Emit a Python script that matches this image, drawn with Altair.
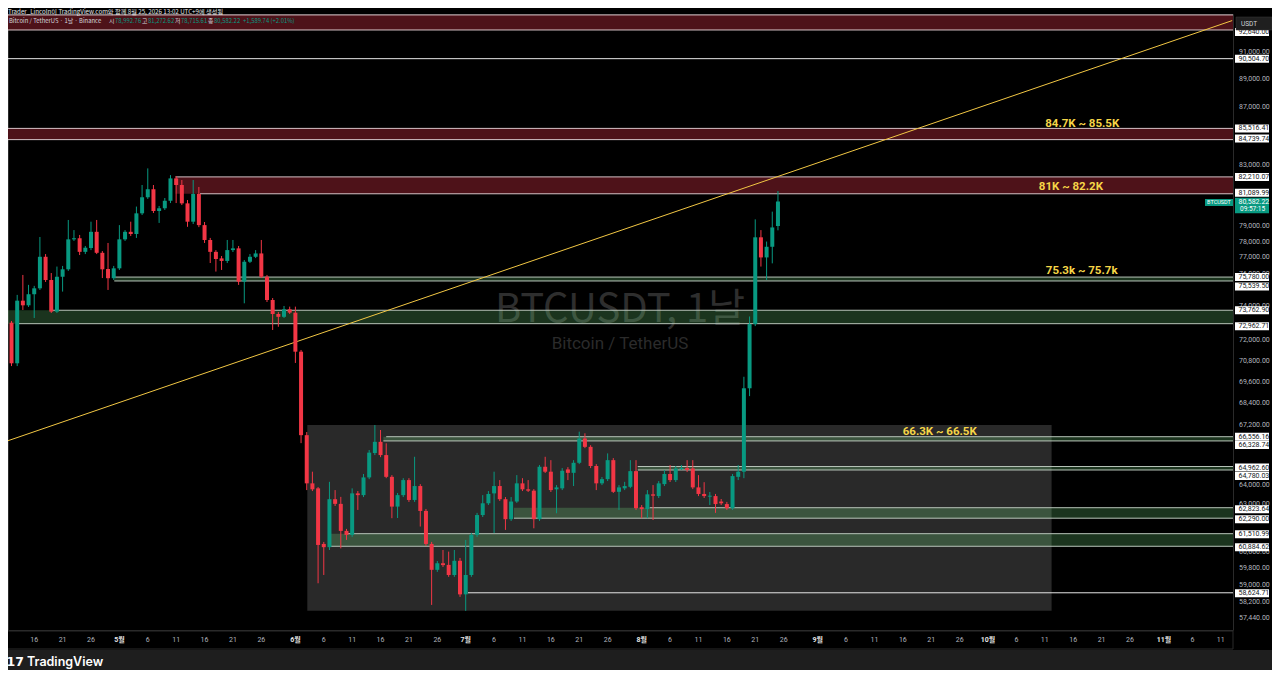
import altair as alt
import pandas as pd

# ---------------- text ----------------
header_text = "Trader_Lincoln이 TradingView.com와 함께 8월 25, 2026 13:02 UTC+9에 생성됨"
symbol_text = "Bitcoin / TetherUS · 1날 · Binance"
watermark_big = "BTCUSDT, 1날"
watermark_small = "Bitcoin / TetherUS"

# ---------------- daily candles, 2026-04-12 .. 2026-08-25 (day index 0..135) ----------------
opens = [73020, 70650, 74340, 74060, 74730, 75090, 77040, 75600, 73680, 75800,
         76260, 78140, 78210, 77350, 77590, 78620, 77290, 76280, 75710, 76320,
         78140, 78620, 78480, 79810, 80860, 81390, 79960, 80140, 80630, 82110,
         81670, 80460, 79270, 81080, 79050, 78100, 77350, 76940, 76780, 77460,
         77570, 75500, 76730, 77040, 77250, 75800, 74380, 73540, 73370, 73820,
         73620, 71320, 66640, 64080, 63820, 61000, 60840, 63260, 63020, 61650,
         61450, 63560, 63470, 64390, 65680, 66280, 65570, 64420, 62880, 63470,
         64250, 63220, 63940, 62660, 61000, 59730, 60050, 59970, 59480, 60170,
         58550, 59480, 61450, 62450, 63050, 63560, 63940, 63260, 62240, 63140,
         64080, 63770, 63700, 62240, 64950, 64690, 63770, 63820, 64810, 64630,
         65160, 66460, 66010, 64990, 64080, 64300, 65300, 63640, 63820, 63900,
         64720, 62850, 62750, 63510, 63420, 64040, 64570, 64250, 64830, 64880,
         64860, 63870, 63530, 63390, 63420, 63140, 63010, 62800, 64420, 64690,
         69230, 72940, 78270, 77000, 77670, 78992.76]
highs = [73120, 74690, 75910, 75300, 75240, 78290, 77210, 76030, 76430, 76470,
         79380, 78730, 78420, 77720, 79270, 79380, 77400, 77910, 76470, 79050,
         78730, 79270, 80250, 81670, 82780, 81670, 80290, 80810, 82330, 82270,
         82000, 80680, 82000, 81540, 79250, 78230, 77460, 77090, 78100, 78100,
         77720, 76840, 77210, 77460, 78100, 75910, 74500, 73660, 74020, 73980,
         73980, 71420, 66810, 64690, 63890, 61100, 64160, 63730, 63380, 61750,
         63820, 63680, 64570, 65840, 67190, 66920, 66200, 64510, 63580, 64350,
         64350, 65480, 64040, 62760, 61100, 60160, 60700, 60620, 60700, 60310,
         61200, 61550, 62560, 63470, 63680, 64690, 64250, 63370, 63370, 64510,
         64350, 64250, 63780, 65040, 65480, 65300, 63990, 64880, 64930, 65300,
         66830, 66740, 66100, 65090, 64410, 65660, 65410, 63990, 64160, 65300,
         65300, 62960, 63730, 63990, 64200, 64780, 65040, 64990, 65040, 65300,
         65300, 64510, 64140, 63630, 63530, 63270, 63120, 64570, 65040, 69880,
         73390, 79420, 78730, 78000, 79920, 81272.62]
lows = [70490, 70490, 73780, 73960, 73300, 74990, 75480, 73600, 73600, 74890,
        76160, 78040, 77150, 77210, 77460, 77210, 75720, 74990, 75600, 76220,
        78040, 78350, 78230, 79700, 80750, 79830, 79190, 80030, 80480, 80480,
        80350, 78940, 79120, 78920, 77910, 76650, 76120, 76220, 76650, 77340,
        75300, 74180, 76650, 76960, 75720, 74260, 72590, 72780, 73300, 73540,
        70670, 66210, 63730, 63680, 59080, 59480, 60700, 62910, 60780, 61200,
        61350, 62710, 63370, 64300, 65570, 65460, 64350, 62290, 62300, 63370,
        63120, 63120, 61870, 60900, 58050, 59630, 59870, 59390, 59390, 58430,
        57770, 59390, 61350, 62350, 62960, 61540, 63170, 61700, 62150, 63070,
        63680, 63630, 61780, 62150, 64620, 63630, 62540, 63730, 64250, 63940,
        65090, 65940, 64880, 63730, 63990, 64200, 63580, 62710, 63730, 63830,
        62710, 62290, 62290, 62200, 63320, 63940, 64150, 64150, 64780, 64670,
        63780, 63420, 63320, 62960, 62560, 62960, 62710, 62710, 64250, 64350,
        68790, 72820, 76430, 75600, 76630, 78715.61]
closes = [70650, 74340, 74060, 74730, 75090, 77040, 75600, 73680, 75800, 76260,
          78140, 78210, 77350, 77610, 78620, 77290, 76260, 75710, 76320, 78140,
          78620, 78480, 79810, 80860, 81390, 79960, 80140, 80630, 82110, 81670,
          80460, 79270, 81080, 79050, 78100, 77350, 76900, 76780, 77460, 77570,
          75500, 76730, 77040, 77250, 75800, 74380, 73540, 73370, 73820, 73620,
          71320, 66640, 64080, 63770, 60950, 60840, 63260, 63020, 61650, 61450,
          63560, 63470, 64390, 65700, 66280, 65570, 64420, 62880, 63470, 64250,
          63220, 63940, 62660, 61000, 59730, 60050, 59960, 59480, 60170, 58550,
          59480, 61450, 62450, 63050, 63530, 63940, 63260, 62240, 63140, 64080,
          63770, 63700, 62240, 64950, 64690, 63730, 63870, 64740, 64630, 65160,
          66460, 66010, 64990, 64080, 64300, 65300, 63640, 63870, 63940, 64720,
          62800, 62750, 63510, 63440, 64080, 64570, 64250, 64860, 64880, 64780,
          63870, 63530, 63420, 63440, 63010, 63050, 62800, 64460, 64690, 69230,
          72940, 78270, 77000, 77670, 78900, 80582.22]

# ---------------- axis ticks ----------------
tick_days = [4, 9, 14, 19, 24, 29, 34, 39, 44, 50, 55, 60, 65, 70, 75, 80, 85, 90, 95, 100,
             105, 111, 116, 121, 126, 131, 136, 142, 147, 152, 157, 162, 167, 172, 177, 182,
             187, 192, 197, 203, 208, 213]
tick_labels = ["16", "21", "26", "5월", "6", "11", "16", "21", "26", "6월", "6", "11", "16",
               "21", "26", "7월", "6", "11", "16", "21", "26", "8월", "6", "11", "16", "21",
               "26", "9월", "6", "11", "16", "21", "26", "10월", "6", "11", "16", "21", "26",
               "11월", "6", "11"]
month_days = [19, 50, 80, 111, 142, 172, 203]
price_ticks = [91000, 89000, 87000, 83000, 79000, 78000, 77000, 76000, 74000, 72000,
               70800, 69600, 68400, 67200, 64000, 63000, 60600, 59800, 59000, 58200, 57440]

# ---------------- drawn levels ----------------
zone_lo = [92640, 84739.74, 81089.99, 75539.50, 72962.71, 66328.74, 64780.03, 62290.00, 60884.62]
zone_hi = [93780, 85516.41, 82210.07, 75780.00, 73762.90, 66556.16, 64962.60, 62823.64, 61510.99]
zone_start = [-5, -5, 28.9, 18.1, -5, 65.5, 110.3, 88.5, 56.2]
zone_kind = ["red", "red", "red", "green", "green", "green", "green", "green", "green"]

edge_price = [93780, 92640, 90504.70, 85516.41, 84739.74, 82210.07, 81089.99, 75780.00,
              75539.50, 73762.90, 72962.71, 66556.16, 66328.74, 64962.60, 64780.03,
              62823.64, 62290.00, 61510.99, 60884.62, 58624.71]
edge_start = [-5, -5, -5, -5, -5, 28.9, 33.2, 18.1, 18.1, 7.3, 1.1, 66.0, 65.5, 110.3, 110.3,
              112.4, 88.5, 59.1, 56.2, 80.4]
edge_kind = ["red", "red", "white", "red", "red", "red", "red", "green", "green", "green",
             "green", "green", "green", "green", "green", "green", "green", "green", "green",
             "white"]

box_vals = [92640.00, 90504.70, 85516.41, 84739.74, 82210.07, 81089.99, 75780.00, 75539.50,
            73762.90, 72962.71, 66556.16, 66328.74, 64962.60, 64780.03, 62823.64, 62290.00,
            61510.99, 60884.62, 58624.71]
box_shift = [2, 0, 0, -1, 0, -1, 0, 5.5, 0, 2.5, 0, 4, 1, 6, 1.5, 1, 0.5, 1, 0.5]

trend_i = [-1, 215]
trend_p = [66300, 93350]

range_i = [52.1, 183.2]
range_p = [57770, 67190]

zone_labels = ["84.7K ~ 85.5K", "81K ~ 82.2K", "75.3k ~ 75.7k", "66.3K ~ 66.5K"]
zone_label_i = [188.6, 186.6, 188.5, 163.5]
zone_label_p = [85820, 81540, 76160, 66810]

# ---------------- styling ----------------
UP = "#089981"
DN = "#f23645"
W, H = 1225, 616
FONT = "Roboto, 'Noto Sans CJK KR', sans-serif"
KFONT = "'Noto Sans CJK KR', Roboto, sans-serif"
EDGE_COL = {"red": "#d6c2c6", "green": "#b8c4b9", "white": "#e6e6e6"}

n = len(opens)
candles = pd.DataFrame({"i": list(range(n)), "o": opens, "h": highs, "l": lows, "c": closes})
candles["d"] = ["up" if c >= o else "down" for o, c in zip(opens, closes)]

zones = pd.DataFrame({"lo": zone_lo, "hi": zone_hi, "s": zone_start, "k": zone_kind})
zones["e"] = 240
edges = pd.DataFrame({"p": edge_price, "s": edge_start, "k": edge_kind})
edges["e"] = 240
trend = pd.DataFrame({"i": trend_i, "p": trend_p})
rng = pd.DataFrame({"i0": [range_i[0]], "i1": [range_i[1]], "lo": [range_p[0]], "hi": [range_p[1]]})
zl = pd.DataFrame({"t": zone_labels, "i": zone_label_i, "p": zone_label_p})
xt = pd.DataFrame({"i": tick_days, "t": tick_labels})
xt["m"] = [d in month_days for d in tick_days]
yt = pd.DataFrame({"p": price_ticks})

xs = alt.Scale(domain=[0.262, 214.27], nice=False, zero=False)
ys = alt.Scale(type="log", domain=[56878, 93851], nice=False, zero=False)

one = pd.DataFrame({"a": [0]})


def X(f):
    return alt.X(f, scale=xs, axis=None)


def Y(f):
    return alt.Y(f, scale=ys, axis=None)


def px_text(txt, x, y, **kw):
    return alt.Chart(one).mark_text(text=txt, **kw).encode(x=alt.value(x), y=alt.value(y))


def box_shape(w_over_h):
    hh = 1.0 / w_over_h
    return "M-1,-%.4fL1,-%.4fL1,%.4fL-1,%.4fZ" % (hh, hh, hh, hh)


layers = []

# bottom branding strip and date strip
layers.append(alt.Chart(one).mark_rect(color="#1e1e1e").encode(
    x=alt.value(-10), x2=alt.value(1300), y=alt.value(636), y2=alt.value(700)))
layers.append(alt.Chart(one).mark_rect(fill="#000000", stroke="#2a2a2a", strokeWidth=1).encode(
    x=alt.value(-3), x2=alt.value(1225), y=alt.value(617), y2=alt.value(635)))

# watermark
layers.append(px_text(watermark_big, 612, 296, font=KFONT, fontSize=40, color="#2e2e2e",
                      align="center", baseline="middle"))
layers.append(px_text(watermark_small, 612, 330, font=FONT, fontSize=17, color="#2b2b2b",
                      align="center", baseline="middle"))

# consolidation range box
layers.append(alt.Chart(rng).mark_rect(color="#ffffff", opacity=0.16).encode(
    x=X("i0:Q"), x2="i1:Q", y=Y("lo:Q"), y2="hi:Q"))

# zones
layers.append(alt.Chart(zones).transform_filter("datum.k == 'red'").mark_rect(
    color="#4e1219", clip=True).encode(x=X("s:Q"), x2="e:Q", y=Y("lo:Q"), y2="hi:Q"))
layers.append(alt.Chart(zones).transform_filter("datum.k == 'green'").mark_rect(
    color="#7cec88", opacity=0.22, clip=True).encode(x=X("s:Q"), x2="e:Q", y=Y("lo:Q"), y2="hi:Q"))
for kind, col in EDGE_COL.items():
    layers.append(alt.Chart(edges).transform_filter("datum.k == '%s'" % kind).mark_rule(
        strokeWidth=1, clip=True, color=col).encode(x=X("s:Q"), x2="e:Q", y=Y("p:Q")))

# trend line
layers.append(alt.Chart(trend).mark_line(color="#f2c744", strokeWidth=1, clip=True).encode(
    x=X("i:Q"), y=Y("p:Q")))

# candles
for d, col in (("up", UP), ("down", DN)):
    sub = candles[candles["d"] == d]
    layers.append(alt.Chart(sub).mark_rule(strokeWidth=1, color=col).encode(
        x=X("i:Q"), y=Y("l:Q"), y2="h:Q"))
    layers.append(alt.Chart(sub).mark_bar(size=4, color=col).encode(
        x=X("i:Q"), y=Y("o:Q"), y2="c:Q"))

# zone labels
layers.append(alt.Chart(zl).mark_text(font=FONT, fontSize=11.5, fontWeight="bold", color="#f5d547",
                                      align="center", baseline="middle").encode(
    x=X("i:Q"), y=Y("p:Q"), text="t:N"))

# date labels
layers.append(alt.Chart(xt).transform_filter("!datum.m").mark_text(
    font=FONT, fontSize=7, color="#b2b5be", align="center", baseline="middle").encode(
    x=X("i:Q"), y=alt.value(626), text="t:N"))
layers.append(alt.Chart(xt).transform_filter("datum.m").mark_text(
    font=FONT, fontSize=7, fontWeight="bold", color="#e6e6e6", align="center",
    baseline="middle").encode(x=X("i:Q"), y=alt.value(626), text="t:N"))

# price tick labels
layers.append(alt.Chart(yt).mark_text(font=FONT, fontSize=7, color="#b2b5be", align="left",
                                      baseline="middle").encode(
    x=alt.value(1231), y=Y("p:Q"), text=alt.Text("p:Q", format=",.2f")))

# level boxes on the price axis
boxes = pd.DataFrame({"p": box_vals, "dy": box_shift})
for dy in sorted(set(box_shift)):
    sub = boxes[boxes["dy"] == dy][["p"]]
    layers.append(alt.Chart(sub).mark_point(shape=box_shape(34 / 8), size=34 * 34, filled=True,
                                            color="#ffffff", opacity=1, strokeWidth=0,
                                            yOffset=dy).encode(x=alt.value(1244), y=Y("p:Q")))
    layers.append(alt.Chart(sub).mark_text(font=FONT, fontSize=7, color="#131722", align="left",
                                           baseline="middle", dy=dy).encode(
        x=alt.value(1230.5), y=Y("p:Q"), text=alt.Text("p:Q", format=",.2f")))

# current price
last = pd.DataFrame({"p": [closes[-1]]})
layers.append(alt.Chart(last).mark_point(shape=box_shape(34 / 15.6), size=34 * 34, filled=True,
                                         color=UP, opacity=1, strokeWidth=0, yOffset=4).encode(
    x=alt.value(1244), y=Y("p:Q")))
layers.append(alt.Chart(last).mark_text(font=FONT, fontSize=7, color="#ffffff", align="left",
                                        baseline="middle", dy=1).encode(
    x=alt.value(1230.5), y=Y("p:Q"), text=alt.Text("p:Q", format=",.2f")))
layers.append(alt.Chart(last).mark_text(font=FONT, fontSize=6.5, color="#ffffff", align="left",
                                        baseline="middle", dy=8, text="09:57:15").encode(
    x=alt.value(1232), y=Y("p:Q")))
layers.append(alt.Chart(last).mark_point(shape=box_shape(28 / 7), size=28 * 28, filled=True,
                                         color=UP, opacity=1, strokeWidth=0, yOffset=1).encode(
    x=alt.value(1211), y=Y("p:Q")))
layers.append(alt.Chart(last).mark_text(font=FONT, fontSize=5.5, color="#ffffff", align="center",
                                        baseline="middle", dy=1, text="BTCUSDT").encode(
    x=alt.value(1211), y=Y("p:Q")))

# USDT unit box
layers.append(alt.Chart(one).mark_point(shape=box_shape(36 / 13), size=36 * 36, filled=True,
                                        color="#1f1f1f", opacity=1, stroke="#3a3a3a",
                                        strokeWidth=0.5).encode(x=alt.value(1246), y=alt.value(9.5)))
layers.append(px_text("USDT", 1233, 9.5, font=FONT, fontSize=6.5, color="#d1d4dc",
                      align="left", baseline="middle"))

# header + symbol legend
layers.append(px_text(header_text, 0, -2.3, font=KFONT, fontSize=6.2, color="#e6e6e6",
                      align="left", baseline="middle"))
legend_parts = [
    (symbol_text, 1, "#d1d4dc"),
    ("시", 101, "#d1d4dc"), (format(opens[-1], ",.2f"), 107, UP),
    ("고", 134, "#d1d4dc"), (format(highs[-1], ",.2f"), 140, UP),
    ("저", 167, "#d1d4dc"), (format(lows[-1], ",.2f"), 173, UP),
    ("종", 200, "#d1d4dc"), (format(closes[-1], ",.2f"), 206, UP),
    ("+1,589.74 (+2.01%)", 235, UP),
]
for txt, x, col in legend_parts:
    layers.append(px_text(txt, x, 7, font=KFONT, fontSize=5.9, color=col,
                          align="left", baseline="middle"))

# branding
layers.append(px_text("17", -1.5, 648, font="'DejaVu Sans', sans-serif", fontSize=12.5,
                      fontWeight="bold", color="#ffffff", align="left", baseline="middle"))
layers.append(px_text("TradingView", 19, 648, font="Inter, Roboto, sans-serif", fontSize=12.5,
                      fontWeight=600, color="#ffffff", align="left", baseline="middle"))

chart = alt.layer(*layers).properties(
    width=W, height=H,
    padding={"left": 0, "top": 6, "right": 39, "bottom": 40},
    autosize=alt.AutoSizeParams(type="none"),
    background="#000000",
).configure_view(stroke="#2a2a2a", strokeWidth=1, fill="#000000")

chart.save("out.html", embed_options={"renderer": "svg", "actions": False})
